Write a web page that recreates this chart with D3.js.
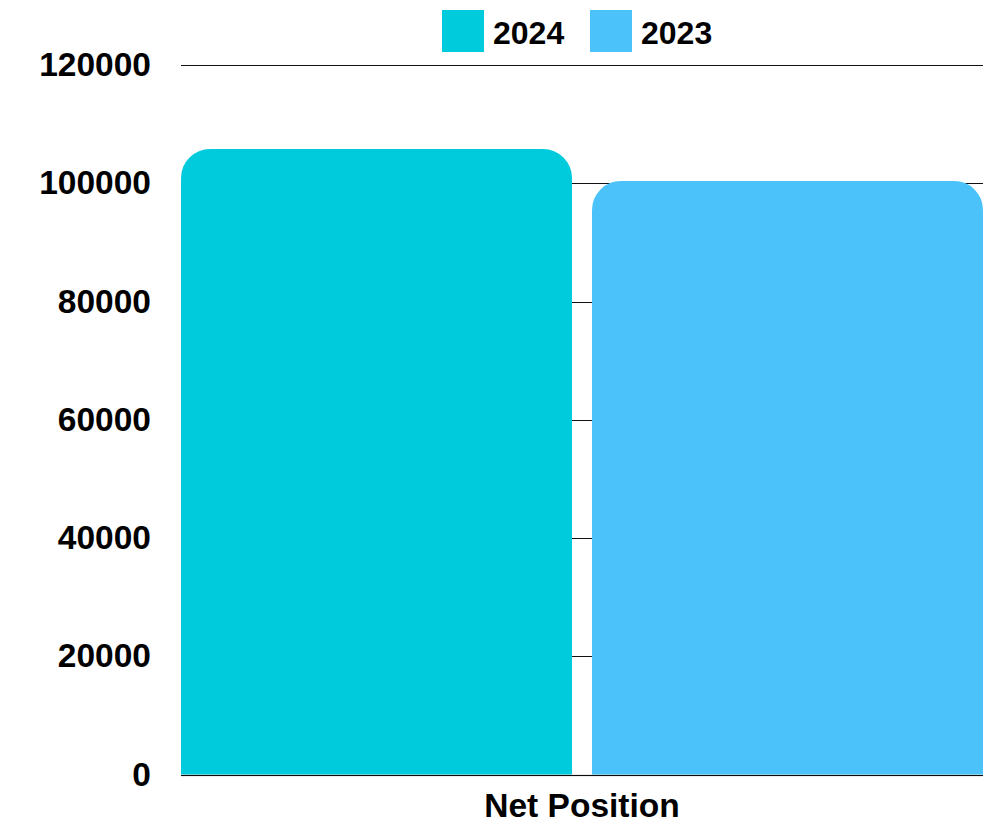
<!DOCTYPE html>
<html>
<head>
<meta charset="utf-8">
<script src="https://cdn.jsdelivr.net/npm/d3@7"></script>
<style>
  html, body { margin: 0; padding: 0; background: #fff; }
  svg { display: block; font-family: "Liberation Sans", Arial, sans-serif; }
</style>
</head>
<body>
<svg id="chart" width="999" height="824"></svg>
<script>
// Net position by year
const categories = ["Net Position"];
const seriesNames = ["2024", "2023"];
const values2024 = [105800];
const values2023 = [100400];
const yTicks = [0, 20000, 40000, 60000, 80000, 100000, 120000];
const seriesColors = ["#00CBDC", "#4BC3FA"];

const seriesValues = { "2024": values2024, "2023": values2023 };

const width = 999, height = 824;
const margin = { left: 181, right: 16, top: 65, bottom: 49.5 };
const svg = d3.select("#chart");

const y = d3.scaleLinear()
  .domain([0, 120000])
  .range([height - margin.bottom, margin.top]);

const x0 = d3.scaleBand()
  .domain(categories)
  .range([margin.left, width - margin.right])
  .padding(0);

const x1 = d3.scaleBand()
  .domain(seriesNames)
  .range([0, x0.bandwidth()])
  .paddingInner(20 / 411);

const color = d3.scaleOrdinal().domain(seriesNames).range(seriesColors);

// horizontal gridlines
svg.append("g")
  .selectAll("line")
  .data(yTicks)
  .join("line")
  .attr("x1", margin.left)
  .attr("x2", width - margin.right)
  .attr("y1", d => Math.round(y(d)) + 0.5)
  .attr("y2", d => Math.round(y(d)) + 0.5)
  .attr("stroke", "#111")
  .attr("stroke-width", 1);

// y-axis labels
const yAxis = d3.axisLeft(y).tickValues(yTicks).tickSize(0).tickPadding(0).tickFormat(d3.format("d"));
const yg = svg.append("g")
  .attr("transform", `translate(151,0)`)
  .call(yAxis);
yg.select(".domain").remove();
yg.selectAll("text")
  .attr("font-size", 33.5)
  .attr("font-weight", "bold")
  .attr("fill", "#000")
  .attr("font-family", "'Liberation Sans', Arial, sans-serif");

// bars with rounded top corners
const r = 29;
function topRounded(xp, yp, w, h) {
  const rr = Math.min(r, w / 2, h);
  return `M${xp},${yp + h}` +
    `V${yp + rr}` +
    `A${rr},${rr} 0 0 1 ${xp + rr},${yp}` +
    `H${xp + w - rr}` +
    `A${rr},${rr} 0 0 1 ${xp + w},${yp + rr}` +
    `V${yp + h}Z`;
}

const groups = svg.append("g")
  .selectAll("g")
  .data(categories)
  .join("g")
  .attr("transform", d => `translate(${x0(d)},0)`);

groups.selectAll("path")
  .data((d, i) => seriesNames.map(s => ({ key: s, value: seriesValues[s][i] })))
  .join("path")
  .attr("d", d => topRounded(x1(d.key), y(d.value), x1.bandwidth(), y(0) - y(d.value)))
  .attr("fill", d => color(d.key));

// baseline
svg.append("line")
  .attr("x1", margin.left)
  .attr("x2", width - margin.right)
  .attr("y1", Math.round(y(0)) + 0.5)
  .attr("y2", Math.round(y(0)) + 0.5)
  .attr("stroke", "rgba(0,0,0,0.3)")
  .attr("stroke-width", 1.5);

// category label
svg.append("g")
  .selectAll("text")
  .data(categories)
  .join("text")
  .attr("x", d => x0(d) + x0.bandwidth() / 2)
  .attr("y", 817)
  .attr("text-anchor", "middle")
  .attr("font-size", 33.5)
  .attr("font-weight", "bold")
  .attr("fill", "#000")
  .text(d => d);

// legend
const legendX = [442, 590];
const legend = svg.append("g")
  .selectAll("g")
  .data(seriesNames)
  .join("g")
  .attr("transform", (d, i) => `translate(${legendX[i]},10)`);
legend.append("rect")
  .attr("width", 42)
  .attr("height", 42)
  .attr("fill", d => color(d));
legend.append("text")
  .attr("x", 51)
  .attr("y", 33.5)
  .attr("font-size", 32)
  .attr("font-weight", "bold")
  .attr("fill", "#000")
  .text(d => d);
</script>
</body>
</html>
